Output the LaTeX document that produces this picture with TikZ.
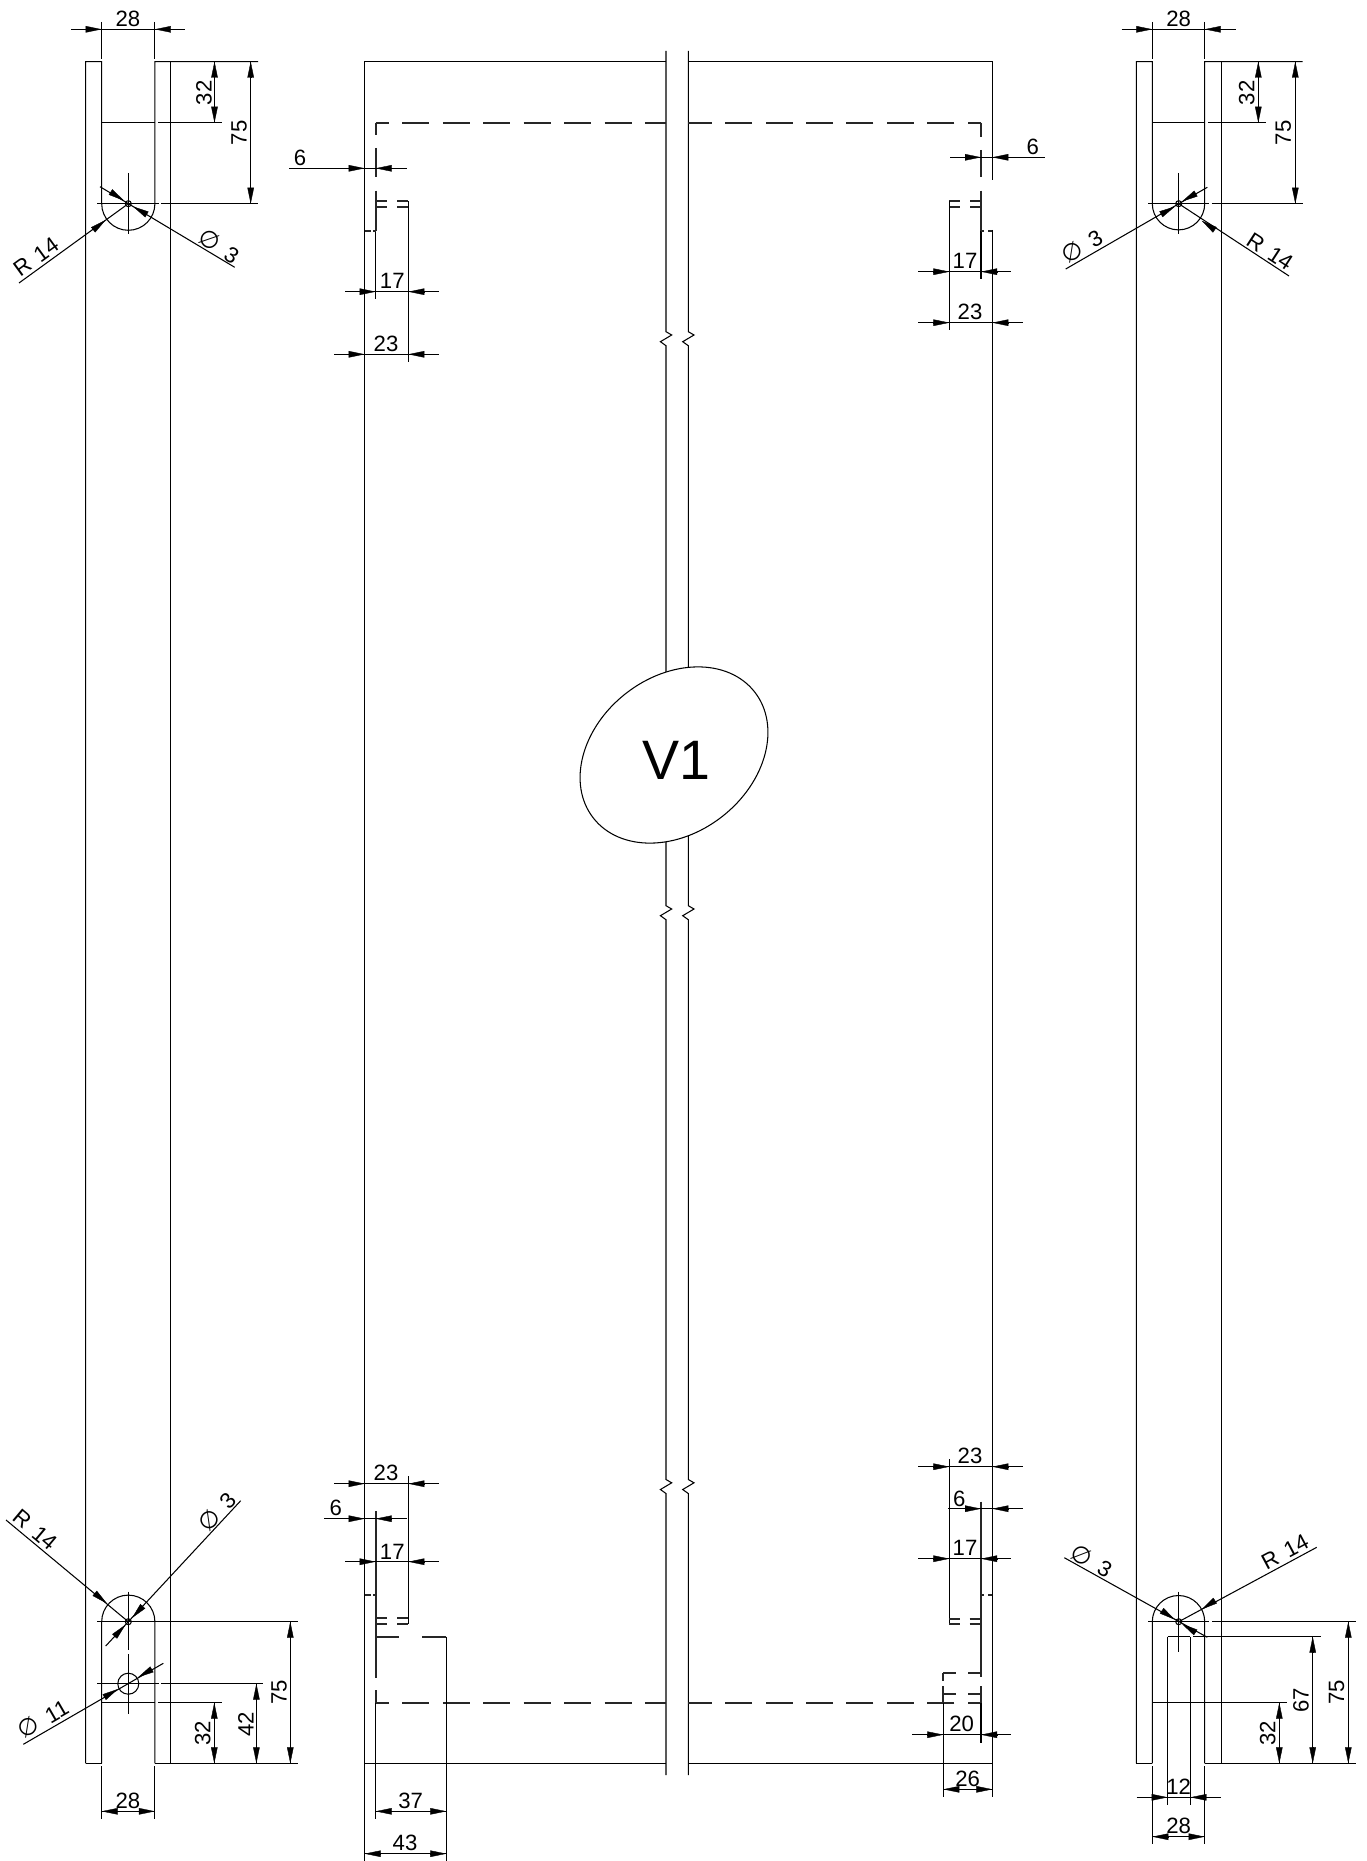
\documentclass[tikz,border=0pt]{standalone}
\usepackage{fontspec}
\setmainfont{Liberation Sans}
\newfontfamily\dejavu{DejaVu Sans}
\usepackage{tikz}
\usetikzlibrary{arrows.meta}
\usetikzlibrary{shapes.geometric}
\tikzstyle{every node}=[font=\fontsize{6.3}{7}\selectfont, inner sep=0pt]
\tikzstyle{hid}=[line width=.5pt, black!85]
\tikzstyle{arr}=[-{Triangle[length=.16cm,width=.065cm]}, line width=.1pt]
\tikzstyle{up}=[rotate=90]
\newcommand{\dia}{{\dejavu\fontsize{6.8}{7}\selectfont\char"2205}}

\begin{document}
\begin{tikzpicture}[x=.01cm, y=-.01cm, line width=.3pt]
    \useasboundingbox (0,0) rectangle (1366,1861);

    % left strip, top
    \draw (85.7,1763.3) -- (85.7,61.6) -- (101.7,61.6) -- (101.7,203.7) arc (180:0:26.6 and 26.6) -- (154.9,61.6) -- (258,61.6);
    \draw (170.6,61.6) -- (170.6,1763.3);
    \draw (101.7,122.7) -- (154.9,122.7) (158,122.7) -- (222,122.7);
    \draw (97,203.7) -- (158.7,203.7) (161,203.7) -- (258,203.7);
    \draw (128.3,173) -- (128.3,234);
    \draw (128.3,203.7) circle (3);
    \draw (101.7,22) -- (101.7,59) (154.9,22) -- (154.9,59);
    \draw (71,29.3) -- (185,29.3);
    \draw (214.5,61.6) -- (214.5,122.7) (250.7,61.6) -- (250.7,203.7);
    \draw (19,283) -- (128.3,203.7) (234.7,267.3) -- (100,186.7);

    % left strip, bottom
    \draw (101.7,1763.3) -- (101.7,1621.7) arc (180:0:26.6 and -26.6) -- (154.9,1763.3);
    \draw (85.7,1763.3) -- (101.7,1763.3) (154.9,1763.3) -- (298,1763.3);
    \draw (97,1621.7) -- (298,1621.7);
    \draw (97,1683.7) -- (158.7,1683.7) (161,1683.7) -- (263,1683.7);
    \draw (101.7,1702.7) -- (154.9,1702.7) (158,1702.7) -- (222,1702.7);
    \draw (128.3,1591.7) -- (128.3,1650) (128.3,1654) -- (128.3,1714);
    \draw (128.3,1621.7) circle (3);
    \draw (128.3,1683.7) circle (10.5);
    \draw (101.7,1766) -- (101.7,1819) (154.9,1766) -- (154.9,1819);
    \draw (101.7,1811.3) -- (154.9,1811.3);
    \draw (214.3,1702.7) -- (214.3,1763.3) (256.4,1683.7) -- (256.4,1763.3) (290.3,1621.7) -- (290.3,1763.3);
    \draw (6,1520) -- (128.3,1621.7) (240.7,1500.7) -- (105.7,1646) (23.3,1744.3) -- (163.3,1663.3);

    % centre plate
    \draw (666,61.6) -- (364.7,61.6) -- (364.7,1861.7);
    \draw (688.3,61.6) -- (992.3,61.6) -- (992.3,180) (992.3,230) -- (992.3,1797.3);
    \draw (364.7,1763.3) -- (666,1763.3) (688.3,1763.3) -- (992.3,1763.3);
    \foreach \lx in {666,688.3} {
        \draw (\lx,51) -- (\lx,331.7) -- ++(5.7,3.3) -- ++(-11.3,6.7) -- ++(5.6,4)
            -- (\lx,905.7) -- ++(5.7,3.3) -- ++(-11.3,6.7) -- ++(5.6,4)
            -- (\lx,1479.5) -- ++(5.7,3.3) -- ++(-11.3,6.7) -- ++(5.6,4) -- (\lx,1775);
    }
    \foreach \ya in {122.7,1702.7} {
        \draw[hid, dash pattern=on .27cm off .134cm, dash phase=.137cm] (375.7,\ya) -- (666,\ya);
        \draw[hid, dash pattern=on .27cm off .134cm, dash phase=.137cm] (981,\ya) -- (688.3,\ya);
    }

    % centre plate, top left
    \draw[hid] (375.7,122.7) -- (375.7,135) (375.7,148) -- (375.7,176.7) (375.7,190.7) -- (375.7,230.7);
    \draw (375.7,230.7) -- (375.7,299);
    \draw[hid] (364.7,230.7) -- (371,230.7) (373.3,230.7) -- (375.7,230.7);
    \foreach \ya in {201.3,207.3} {
        \draw[hid] (375.7,\ya) -- (387.3,\ya) (397.3,\ya) -- (408.3,\ya);
    }
    \draw (408.3,201.3) -- (408.3,361.7);
    \draw (289,168.3) -- (406.7,168.3) (345.3,291.7) -- (438.7,291.7) (334,354.3) -- (438.7,354.3);

    % centre plate, top right
    \draw[hid] (981,122.7) -- (981,136.7) (981,150) -- (981,176.7) (981,190.7) -- (981,230.7);
    \draw (981,230.7) -- (981,279.3);
    \draw[hid] (981,230.7) -- (984,230.7) (988.3,230.7) -- (992.3,230.7);
    \foreach \ya in {201.3,207.3} {
        \draw[hid] (949.4,\ya) -- (960,\ya) (970,\ya) -- (981,\ya);
    }
    \draw (949.4,201.3) -- (949.4,330);
    \draw (950,157.3) -- (1045,157.3) (918,271.7) -- (1011,271.7) (918,322.7) -- (1022.7,322.7);

    % centre plate, bottom left
    \draw (408.3,1476) -- (408.3,1618.3);
    \draw[hid] (375.7,1511) -- (375.7,1678.3) (375.7,1690) -- (375.7,1703);
    \draw (375.7,1703) -- (375.7,1819);
    \draw[hid] (364.7,1595.3) -- (371,1595.3) (373.3,1595.3) -- (375.7,1595.3);
    \foreach \ya in {1618.3,1624.3} {
        \draw[hid] (375.7,\ya) -- (387.3,\ya) (397.3,\ya) -- (408.3,\ya);
    }
    \draw (408.3,1618.3) -- (408.3,1624.3);
    \draw[hid] (375.7,1636.7) -- (399.3,1636.7) (422.3,1636.7) -- (446.3,1636.7);
    \draw (446.3,1636.7) -- (446.3,1860.7);
    \draw (334,1483.7) -- (438.7,1483.7) (324.3,1518.7) -- (406.7,1518.7) (345.3,1561.7) -- (438.7,1561.7);
    \draw (375.7,1811.3) -- (446.3,1811.3) (364.7,1853.7) -- (446.3,1853.7);

    % centre plate, bottom right
    \draw (949.4,1459.3) -- (949.4,1624.3);
    \draw[hid] (981,1501.7) -- (981,1676.7) (981,1686) -- (981,1703);
    \draw (981,1703) -- (981,1742.7);
    \draw[hid] (981,1595.3) -- (984,1595.3) (988.3,1595.3) -- (992.3,1595.3);
    \foreach \ya in {1619.3,1624.3} {
        \draw[hid] (949.4,\ya) -- (960,\ya) (969.5,\ya) -- (981,\ya);
    }
    \foreach \ya in {1672.7,1694.3} {
        \draw[hid] (943.3,\ya) -- (955.5,\ya) (968,\ya) -- (981,\ya);
    }
    \draw[hid] (943.3,1672.7) -- (943.3,1681) (943.3,1686) -- (943.3,1703);
    \draw (943.3,1703) -- (943.3,1797.3);
    \draw (918,1466.7) -- (1022.7,1466.7) (948.3,1508.7) -- (1022.7,1508.7) (918,1558.7) -- (1011,1558.7);
    \draw (912.3,1734.7) -- (1011,1734.7) (943.3,1789.3) -- (992.3,1789.3);

    % right strip, top
    \draw (1136.3,1763.3) -- (1136.3,61.6) -- (1152.3,61.6) -- (1152.3,203.7) arc (180:0:26.2 and 26.2) -- (1204.7,61.6) -- (1302.7,61.6);
    \draw (1221.7,61.6) -- (1221.7,1763.3);
    \draw (1152.3,122.7) -- (1204.7,122.7) (1208,122.7) -- (1266,122.7);
    \draw (1148.3,203.7) -- (1209.3,203.7) (1211.7,203.7) -- (1302.7,203.7);
    \draw (1178.7,173) -- (1178.7,234);
    \draw (1178.7,203.7) circle (3);
    \draw (1152.3,22) -- (1152.3,59) (1204.7,22) -- (1204.7,59);
    \draw (1121.7,29.3) -- (1235.7,29.3);
    \draw (1258.3,61.6) -- (1258.3,122.7) (1295.3,61.6) -- (1295.3,203.7);
    \draw (1065.7,269) -- (1207.3,187.3) (1289,276) -- (1178.7,203.7);

    % right strip, bottom
    \draw (1152.3,1763.3) -- (1152.3,1621.7) arc (180:0:26.2 and -26.2) -- (1204.7,1763.3);
    \draw (1136.3,1763.3) -- (1152.3,1763.3) (1204.7,1763.3) -- (1355.7,1763.3);
    \draw (1148.3,1621.7) -- (1209.3,1621.7) (1212.3,1621.7) -- (1355.7,1621.7);
    \draw (1167.7,1636.7) -- (1190.4,1636.7) (1193.3,1636.7) -- (1320.7,1636.7);
    \draw (1167.7,1636.7) -- (1167.7,1805) (1190.4,1636.7) -- (1190.4,1805);
    \draw (1152.3,1702.7) -- (1287.3,1702.7);
    \draw (1178.7,1591.7) -- (1178.7,1651.7);
    \draw (1178.7,1621.7) circle (3);
    \draw (1152.3,1766) -- (1152.3,1844) (1204.7,1766) -- (1204.7,1844);
    \draw (1136.7,1797.3) -- (1220.7,1797.3) (1152.3,1836.7) -- (1204.7,1836.7);
    \draw (1279.3,1702.7) -- (1279.3,1763.3) (1312.7,1636.7) -- (1312.7,1763.3) (1348.3,1621.7) -- (1348.3,1763.3);
    \draw (1064.3,1557.7) -- (1207.3,1637.3) (1316.7,1547.3) -- (1178.7,1621.7);

    % arrowheads, tail/point
    \foreach \ta/\tb in {
        {86,29.3}/{101.7,29.3}, {170.5,29.3}/{154.9,29.3},
        {214.5,77.5}/{214.5,61.6}, {214.5,107}/{214.5,122.7},
        {250.7,77.5}/{250.7,61.6}, {250.7,188}/{250.7,203.7},
        {93,230}/{105.7,220}, {111.7,192.7}/{124,200.7}, {146,214}/{133,206.5},
        {117.3,1811.3}/{101.7,1811.3}, {139.3,1811.3}/{154.9,1811.3},
        {214.3,1718}/{214.3,1702.7}, {214.3,1748}/{214.3,1763.3},
        {256.4,1699}/{256.4,1683.7}, {256.4,1748}/{256.4,1763.3},
        {290.3,1637}/{290.3,1621.7}, {290.3,1748}/{290.3,1763.3},
        {95,1593.5}/{107,1603.5}, {143,1606}/{132,1618}, {115,1636}/{125.5,1624.7},
        {105,1696.7}/{118,1689}, {151.5,1669.5}/{138,1677.3},
        {349,168.3}/{364.7,168.3}, {391,168.3}/{375.7,168.3},
        {360,291.7}/{375.7,291.7}, {424,291.7}/{408.3,291.7},
        {349,354.3}/{364.7,354.3}, {424,354.3}/{408.3,354.3},
        {965.3,157.3}/{981,157.3}, {1008,157.3}/{992.3,157.3},
        {933.3,271.7}/{949.4,271.7}, {996.7,271.7}/{981,271.7},
        {933.3,322.7}/{949.4,322.7}, {1008,322.7}/{992.3,322.7},
        {349,1483.7}/{364.7,1483.7}, {424,1483.7}/{408.3,1483.7},
        {349,1518.7}/{364.7,1518.7}, {391,1518.7}/{375.7,1518.7},
        {360,1561.7}/{375.7,1561.7}, {424,1561.7}/{408.3,1561.7},
        {391.3,1811.3}/{375.7,1811.3}, {430.3,1811.3}/{446.3,1811.3},
        {380.3,1853.7}/{364.7,1853.7}, {430.3,1853.7}/{446.3,1853.7},
        {933.3,1466.7}/{949.4,1466.7}, {1008,1466.7}/{992.3,1466.7},
        {965.3,1508.7}/{981,1508.7}, {1008,1508.7}/{992.3,1508.7},
        {933.3,1558.7}/{949.4,1558.7}, {996.7,1558.7}/{981,1558.7},
        {927.3,1734.7}/{943.3,1734.7}, {996.7,1734.7}/{981,1734.7},
        {958.7,1789.3}/{943.3,1789.3}, {976.7,1789.3}/{992.3,1789.3},
        {1136.7,29.3}/{1152.3,29.3}, {1220.7,29.3}/{1204.7,29.3},
        {1258.3,77.5}/{1258.3,61.6}, {1258.3,107}/{1258.3,122.7},
        {1295.3,77.5}/{1295.3,61.6}, {1295.3,188}/{1295.3,203.7},
        {1162.7,213.3}/{1175,206.5}, {1195,194}/{1182,201.5}, {1215,230}/{1201.7,220.7},
        {1215,1600.7}/{1201.7,1609.3}, {1161.7,1610.7}/{1175,1619.7}, {1196,1632.7}/{1182,1624},
        {1152.3,1797.3}/{1167.7,1797.3}, {1205.5,1797.3}/{1190.4,1797.3},
        {1167.9,1836.7}/{1152.3,1836.7}, {1189.4,1836.7}/{1204.7,1836.7},
        {1279.3,1718}/{1279.3,1702.7}, {1279.3,1748}/{1279.3,1763.3},
        {1312.7,1652}/{1312.7,1636.7}, {1312.7,1748}/{1312.7,1763.3},
        {1348.3,1637}/{1348.3,1621.7}, {1348.3,1748}/{1348.3,1763.3}} {
        \draw[arr] (\ta) -- (\tb);
    }

    % sizes
    \foreach \nm/\pos/\txt in {
        la/{128,19}/28, lb/{128,1800.7}/28, lc/{386,344}/23, ld/{392.3,281}/17, le/{300,157.7}/6,
        lf/{386,1473}/23, lg/{335.7,1508.3}/6, lh/{392.3,1551.7}/17, li/{410.7,1801}/37, lj/{405,1843.3}/43,
        lk/{1032.7,146.7}/6, ll/{965,260.7}/17, lm/{970,312.3}/23,
        ln/{970,1455.7}/23, lo/{959.3,1499}/6, lp/{965,1548.3}/17, lq/{961.7,1724.3}/20, lr/{967.7,1779.3}/26,
        ls/{1178.7,19}/28, lt/{1178.7,1786.7}/12, lu/{1178.7,1826}/28} {
        \node (\nm) at (\pos) {\txt};
    }
    \foreach \nm/\pos/\txt in {
        va/{204,93}/32, vb/{239,133}/75, vc/{202.7,1733}/32, vd/{246,1724}/42, ve/{279,1692}/75,
        vf/{1246.7,93}/32, vg/{1283.3,133}/75, vh/{1267.7,1733.3}/32, vi/{1301,1700}/67, vj/{1336.7,1692.3}/75} {
        \node[up] (\nm) at (\pos) {\txt};
    }
    \node[rotate=36] (ra) at (36,257) {R \hspace{.03cm}14};
    \node[rotate=-40] (rb) at (35,1530) {R \hspace{.03cm}14};
    \node[rotate=-33] (rc) at (1270,251.7) {R \hspace{.03cm}14};
    \node[rotate=28] (rd) at (1285,1551.7) {R \hspace{.03cm}14};
    \node[rotate=-32] (pa) at (219,246) {\dia{} \hspace{.04cm}3};
    \node[rotate=47] (pb) at (216.7,1511.7) {\dia{} \hspace{.04cm}3};
    \node[rotate=30] (pc) at (43,1719) {\dia{} \hspace{.04cm}11};
    \node[rotate=30] (pd) at (1081.7,246) {\dia{} \hspace{.04cm}3};
    \node[rotate=-30] (pe) at (1091.7,1560.7) {\dia{} \hspace{.04cm}3};

    % plate mark
    \node[draw, ellipse, fill=white, rotate=38, minimum width=2.046cm, minimum height=1.562cm] (vo) at (674,755) {};
    \node[font=\fontsize{15.8}{17}\selectfont] (vt) at (676.5,760) {V1};
\end{tikzpicture}
\end{document}
